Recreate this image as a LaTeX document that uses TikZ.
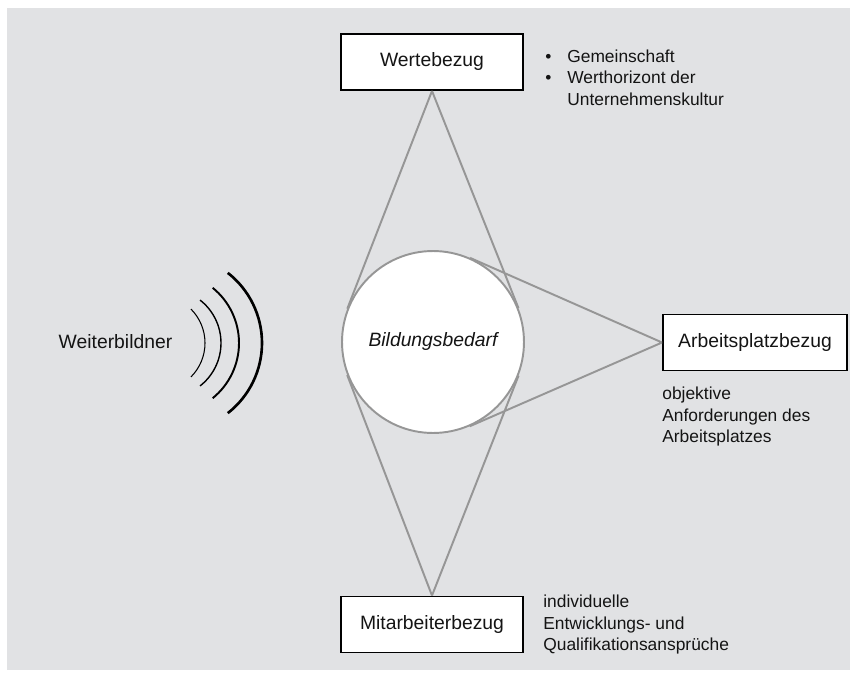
\documentclass[tikz,border=0pt]{standalone}
\usepackage{fontspec}
\setmainfont{Liberation Sans}
\usetikzlibrary{calc}
\definecolor{mybg}{RGB}{225,226,228}
\definecolor{mygrey}{RGB}{150,150,150}
\definecolor{mytext}{RGB}{20,20,20}

\begin{document}
\begin{tikzpicture}[x=0.02cm,y=-0.02cm,text=mytext,
  bezug/.style={draw,line width=1.1pt,fill=white,minimum width=3.64cm,
    minimum height=1.12cm,font=\fontsize{11}{13}\selectfont},
  bedarf/.style={draw=mygrey,line width=1.1pt,fill=white,circle,
    minimum size=3.64cm,font=\fontsize{11}{13}\selectfont\itshape},
  kante/.style={draw=mygrey,line width=1.1pt},
  notiz/.style={align=left,inner sep=0pt,anchor=north west,
    font=\fontsize{9.9}{12.2}\selectfont}]

  \useasboundingbox (0,0) rectangle (850,673);
  \fill[mybg] (7,8) rectangle (850,670);

  \node[bedarf] (bedarf) at (433,342) {Bildungsbedarf};
  \node[bezug] (werte) at (432,62) {Wertebezug};
  \node[bezug,minimum width=3.68cm] (arbeit) at (755,342.5) {Arbeitsplatzbezug};
  \node[bezug] (mitarb) at (432,624.5) {Mitarbeiterbezug};

  % tangents from the three boxes to the circle
  \draw[kante] (werte.south) -- (tangent cs:node=bedarf,point={(werte.south)},solution=1)
    (werte.south) -- (tangent cs:node=bedarf,point={(werte.south)},solution=2)
    (mitarb.north) -- (tangent cs:node=bedarf,point={(mitarb.north)},solution=1)
    (mitarb.north) -- (tangent cs:node=bedarf,point={(mitarb.north)},solution=2)
    (arbeit.west) -- (tangent cs:node=bedarf,point={(arbeit.west)},solution=1)
    (arbeit.west) -- (tangent cs:node=bedarf,point={(arbeit.west)},solution=2);

  \node[anchor=base,font=\fontsize{11}{13}\selectfont] (weiterbildner) at (115.5,348) {Weiterbildner};

  % waves
  \draw[line width=0.6pt] (205,343) arc[start angle=0,end angle=45,radius=48]
    (205,343) arc[start angle=0,end angle=-45,radius=48];
  \draw[line width=0.8pt] (221,343) arc[start angle=0,end angle=52,radius=54.5]
    (221,343) arc[start angle=0,end angle=-52,radius=54.5];
  \draw[line width=1.1pt] (239,343) arc[start angle=0,end angle=51,radius=71]
    (239,343) arc[start angle=0,end angle=-51,radius=71];
  \draw[line width=1.5pt] (262,343) arc[start angle=0,end angle=52,radius=89]
    (262,343) arc[start angle=0,end angle=-52,radius=89];

  \node[notiz] (werte-notiz) at (545,49.5) {\makebox[12.5pt][l]{\textbullet}Gemeinschaft\\
    \makebox[12.5pt][l]{\textbullet}Werthorizont der\\
    \hspace*{12.5pt}Unternehmenskultur};
  \node[notiz] (arbeit-notiz) at (662,387) {objektive\\ Anforderungen des\\ Arbeitsplatzes};
  \node[notiz] (mitarb-notiz) at (543,595) {individuelle\\ Entwicklungs- und\\ Qualifikationsansprüche};

\end{tikzpicture}
\end{document}
